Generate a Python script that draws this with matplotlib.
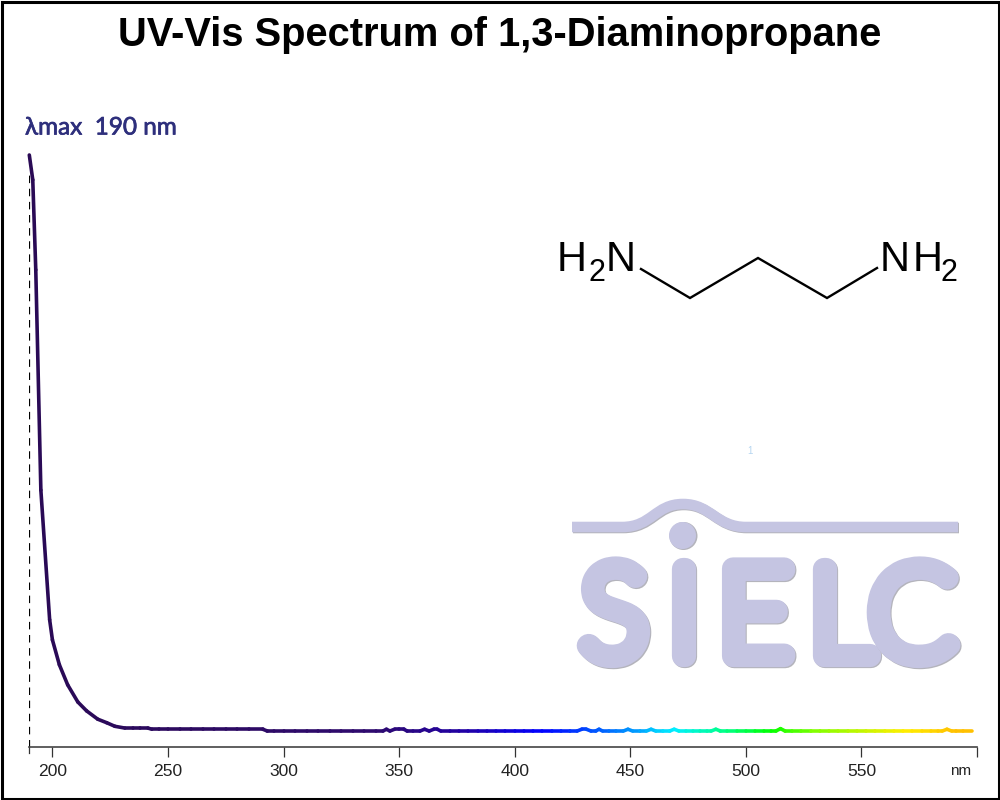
#!/usr/bin/env python3
import numpy as np
import matplotlib
matplotlib.use("Agg")
import matplotlib.pyplot as plt
import matplotlib.patheffects as pe
from matplotlib.collections import LineCollection
from matplotlib.colors import LinearSegmentedColormap
from matplotlib.patches import Circle, PathPatch, Rectangle
from matplotlib.path import Path
from matplotlib.transforms import Affine2D

# spectrum, absorbance scaled so the peak is 1
wavelength = [190, 191.5, 192.8, 195, 198.8, 200, 203, 206.6, 211, 214.8, 219.6, 223.5, 227, 231.3,
              235, 238, 241.3, 243, 246, 250, 255, 260, 265, 270, 275, 280, 285, 291, 293,
              296, 300, 305, 310, 315, 320, 325, 330, 335, 340, 343, 344.5, 346, 348, 350, 352, 353.5,
              356, 359, 361, 363, 365, 366.5, 368, 372, 376, 380, 384, 388, 392, 396, 400,
              404, 408, 412, 416, 420, 424, 427, 429, 431, 433, 435, 436.5, 438, 441, 444, 447, 449, 451,
              454, 457, 459, 461, 464, 467, 469, 471, 474, 477, 480, 483, 485, 487, 489,
              492, 496, 500, 504, 508, 511, 513, 515, 517, 520, 524, 528, 532, 536, 540, 544, 548,
              552, 556, 560, 564, 568, 572, 576, 580, 583, 585, 587, 589, 591, 594, 598]
absorbance = [1.0, 0.958, 0.806, 0.434, 0.215, 0.181, 0.139, 0.105, 0.076, 0.061, 0.047, 0.041, 0.035, 0.032,
              0.032, 0.032, 0.032, 0.030, 0.030, 0.030, 0.030, 0.030, 0.030, 0.030, 0.030, 0.030, 0.030, 0.030, 0.027,
              0.027, 0.027, 0.027, 0.027, 0.027, 0.027, 0.027, 0.027, 0.027, 0.027, 0.027, 0.030, 0.027, 0.030, 0.030, 0.030, 0.027,
              0.027, 0.027, 0.030, 0.027, 0.030, 0.030, 0.027, 0.027, 0.027, 0.027, 0.027, 0.027, 0.027, 0.027, 0.027,
              0.027, 0.027, 0.027, 0.027, 0.027, 0.027, 0.027, 0.030, 0.030, 0.027, 0.027, 0.030, 0.027, 0.027, 0.027, 0.027, 0.030, 0.027,
              0.027, 0.027, 0.030, 0.027, 0.027, 0.027, 0.030, 0.027, 0.027, 0.027, 0.027, 0.027, 0.027, 0.030, 0.027,
              0.027, 0.027, 0.027, 0.027, 0.027, 0.027, 0.027, 0.031, 0.027, 0.027, 0.027, 0.027, 0.027, 0.027, 0.027, 0.027, 0.027,
              0.027, 0.027, 0.027, 0.027, 0.027, 0.027, 0.027, 0.027, 0.027, 0.027, 0.030, 0.027, 0.027, 0.027, 0.027]

x_ticks = [200, 250, 300, 350, 400, 450, 500, 550]
colour_nm = [190, 340, 380, 412, 430, 450, 470, 490, 512, 530, 570, 592, 600]
colour_hex = ["#2a0a55", "#2e0a6e", "#2000a8", "#0000ff", "#0040ff", "#0090ff", "#00f0ff",
              "#00ff90", "#00ff00", "#80ff00", "#ffee00", "#ffc000", "#ffc000"]

fig = plt.figure(figsize=(10, 8), dpi=100)
ax = fig.add_axes([29.3 / 1000, 53 / 800, 947.7 / 1000, 592 / 800])
ax.set_xlim(190, 600)
ax.set_ylim(0, 1)
ax.patch.set_alpha(0)

stops = [(n - 190) / 410 for n in colour_nm]
cmap = LinearSegmentedColormap.from_list("spec", list(zip(stops, colour_hex)))
pts = np.column_stack([wavelength, absorbance])
segs = np.stack([pts[:-1], pts[1:]], axis=1)
mid = (np.array(wavelength[:-1]) + np.array(wavelength[1:])) / 2
lc = LineCollection(segs, colors=cmap((mid - 190) / 410), linewidths=2.6, capstyle="round",
                    joinstyle="round", clip_on=False, zorder=3)
ax.add_collection(lc)

ax.plot([190, 190], [0, 0.966], color="black", lw=0.9, dashes=(6, 4.5), zorder=2)

for s in ["top", "left", "right"]:
    ax.spines[s].set_visible(False)
ax.spines["bottom"].set_color("#444444")
ax.spines["bottom"].set_linewidth(1.2)
ax.set_yticks([])
ax.set_xticks(x_ticks + [600])
ax.set_xticklabels([str(t) for t in x_ticks] + [""], fontsize=12.6, family="Liberation Sans", color="#222222")
ax.tick_params(axis="x", length=7.5, width=0.9, color="#333333", pad=4.5)
ax.plot([190, 190], [0, -6 / 592], color="#333333", lw=0.9, clip_on=False)

# overlay in pixel coordinates for the title, structure and logo
ov = fig.add_axes([0, 0, 1, 1])
ov.set_xlim(0, 1000)
ov.set_ylim(800, 0)
ov.axis("off")
ov.patch.set_alpha(0)

ov.add_patch(Rectangle((1.5, 1.5), 997, 797, fill=False, ec="black", lw=2.2))
ov.text(500, 34.5, "UV-Vis Spectrum of 1,3-Diaminopropane", ha="center", va="center",
        fontsize=28.7, fontweight="bold", family="Liberation Sans", color="black")
t = ov.text(25, 128, "λmax  190 nm", ha="left", va="center", fontsize=17.5, family="Lato", color="#2e2f7c")
t.set_path_effects([pe.withStroke(linewidth=0.5, foreground="#2e2f7c")])
ov.text(961, 771, "nm", ha="center", va="center", fontsize=11, family="Liberation Sans", color="#222222")
ov.text(750, 451, "1", ha="center", va="center", fontsize=7, family="Liberation Sans", color="#b5d5f0")

# structure
ov.plot([641, 690, 758, 827, 877], [269, 298, 258, 298, 268], color="black", lw=1.7, solid_joinstyle="miter")
for x, y, s, size in [(557, 271, "H", 30), (588, 281, "2", 22), (606, 271, "N", 30),
                      (880, 271, "N", 30), (913, 271, "H", 30), (941, 281, "2", 22)]:
    ov.text(x, y, s, ha="left", va="baseline", fontsize=size, family="Liberation Sans", color="black")

# watermark logo
logo = "#c5c5e2"
shadow = "#b4b4bc"
wave = Path([(572, 527), (622, 527), (652, 527), (655, 504), (683, 504), (711, 504), (716, 527), (746, 527), (958, 527)],
            [Path.MOVETO, Path.LINETO, Path.CURVE4, Path.CURVE4, Path.CURVE4, Path.CURVE4, Path.CURVE4, Path.CURVE4, Path.LINETO])
ov.add_patch(PathPatch(wave, fill=False, ec=shadow, lw=7.6, capstyle="butt",
                       transform=ov.transData + Affine2D().translate(1, -1), zorder=1))
ov.add_patch(PathPatch(wave, fill=False, ec=logo, lw=7.6, capstyle="butt", zorder=1.1))
ov.add_patch(Circle((683.5, 536), 14, fc=shadow, ec="none", zorder=1))
ov.add_patch(Circle((682.5, 535.5), 13.5, fc=logo, ec="none", zorder=1.1))

stroke = [pe.Stroke(linewidth=16, foreground=shadow, joinstyle="round", capstyle="round", offset=(0.8, -0.8)),
          pe.Stroke(linewidth=16, foreground=logo, joinstyle="round", capstyle="round"),
          pe.Normal()]
for x, s in [(614, "S"), (684, "I"), (755, "E"), (841, "L"), (912, "C")]:
    t = ov.text(x, 656, s, ha="center", va="baseline", fontsize=90, family="Lato", fontweight="light",
                color=logo, zorder=1.2)
    t.set_path_effects(stroke)

fig.savefig("out.png", dpi=100)
